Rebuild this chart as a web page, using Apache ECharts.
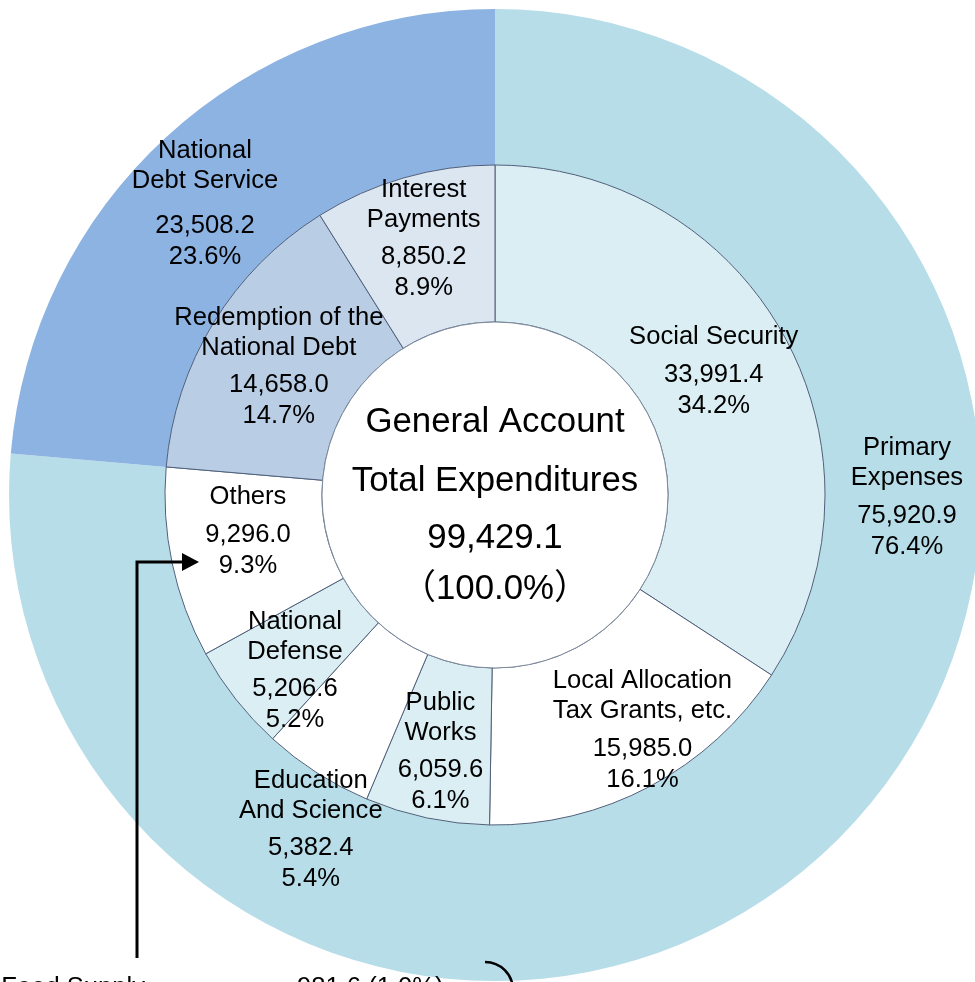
<!DOCTYPE html>
<html><head><meta charset="utf-8">
<script src="https://cdn.jsdelivr.net/npm/echarts@6/dist/echarts.min.js"></script>
<style>html,body{margin:0;padding:0;background:#fff;overflow:hidden}#c{width:975px;height:982px}</style>
</head><body><div id="c"></div>
<script>
// ---- data ----
const innerNames = ['Social Security','Local Allocation\nTax Grants, etc.','Public\nWorks','Education\nAnd Science','National\nDefense','Others','Redemption of the\nNational Debt','Interest\nPayments'];
const innerValues = [33991.4, 15985.0, 6059.6, 5382.4, 5206.6, 9296.0, 14658.0, 8850.2];
const innerPercents = [34.2, 16.1, 6.1, 5.4, 5.2, 9.3, 14.7, 8.9];
const outerNames = ['Primary\nExpenses','National\nDebt Service'];
const outerValues = [75920.9, 23508.2];
const outerPercents = [76.4, 23.6];
const totalName = 'General Account\nTotal Expenditures';
const totalValue = 99429.1;
const totalPercent = 100.0;
const foodSupplyName = 'Food Supply';
const foodSupplyValue = 981.6;
const foodSupplyPercent = 1.0;

// ---- styles / layout ----
const innerColors = ['#daeef3','#ffffff','#daeef3','#ffffff','#daeef3','#ffffff','#b9cde5','#dce6f1'];
const outerColors = ['#b7dde8','#8db3e2'];
const innerLabelShift = [[-5,-2],[28,11],[-2,8],[-47,121],[0,19],[2,-16],[1,5],[-1,-11]];
const outerLabelShift = [[134,-300],[-12,12]];
const innerGap = ['g','g','g','g','g','g','g','g'];
const outerGap = ['g','G'];
const FONT = "'Liberation Sans', Arial, 'Noto Sans CJK JP', sans-serif";
const CX = 495, CY = 495;

const fmt = v => v.toLocaleString('en-US', {minimumFractionDigits: 1, maximumFractionDigits: 1});
const rich = {
  n: {fontSize: 25.6, lineHeight: 30, color: '#000', fontFamily: FONT},
  g: {fontSize: 4, lineHeight: 7},
  G: {fontSize: 4, lineHeight: 14},
  v: {fontSize: 25.6, lineHeight: 31, color: '#000', fontFamily: FONT}
};
function makeFormatter(pcts, gaps) {
  return function (p) {
    const nameLines = p.name.split('\n').map(s => '{n|' + s + '}').join('\n');
    return nameLines + '\n{' + gaps[p.dataIndex] + '| }\n{v|' + fmt(p.value) + '}\n{v|' + pcts[p.dataIndex].toFixed(1) + '%}';
  };
}

const chart = echarts.init(document.getElementById('c'), null, {renderer: 'canvas'});
chart.setOption({
  animation: false,
  series: [
    {
      type: 'pie', name: 'outer', center: [CX, CY], radius: [330, 486],
      startAngle: 90, clockwise: true, silent: true, avoidLabelOverlap: false,
      data: outerNames.map((n, i) => ({name: n, value: outerValues[i], itemStyle: {color: outerColors[i]}})),
      itemStyle: {borderWidth: 0},
      label: {show: true, position: 'inside', formatter: makeFormatter(outerPercents, outerGap), rich: rich, color: '#000'},
      labelLine: {show: false},
      labelLayout: p => ({dx: outerLabelShift[p.dataIndex][0], dy: outerLabelShift[p.dataIndex][1]}),
      emphasis: {disabled: true}
    },
    {
      type: 'pie', name: 'inner', center: [CX, CY], radius: [173, 330],
      startAngle: 90, clockwise: true, silent: true, avoidLabelOverlap: false,
      data: innerNames.map((n, i) => ({name: n, value: innerValues[i], itemStyle: {color: innerColors[i]}})),
      itemStyle: {borderColor: '#4f5f7a', borderWidth: 1},
      label: {show: true, position: 'inside', formatter: makeFormatter(innerPercents, innerGap), rich: rich, color: '#000'},
      labelLine: {show: false},
      labelLayout: p => ({dx: innerLabelShift[p.dataIndex][0], dy: innerLabelShift[p.dataIndex][1]}),
      emphasis: {disabled: true}
    },
    {
      type: 'pie', name: 'total', center: [CX, CY], radius: [0, 173],
      silent: true,
      data: [{name: totalName, value: totalValue}],
      itemStyle: {color: '#ffffff', borderColor: '#7d8a9c', borderWidth: 1},
      label: {
        show: true, position: 'center',
        formatter: p => {
          const l = p.name.split('\n');
          return '{a|' + l[0] + '}\n{b|' + l[1] + '}\n{c|' + fmt(p.value) + '}\n{d|（' + totalPercent.toFixed(1) + '%）}';
        },
        rich: {
          a: {fontSize: 34.8, lineHeight: 59, color: '#000', fontFamily: FONT},
          b: {fontSize: 34.8, lineHeight: 59, color: '#000', fontFamily: FONT},
          c: {fontSize: 34.8, lineHeight: 55, color: '#000', fontFamily: FONT},
          d: {fontSize: 34.8, lineHeight: 47, color: '#000', fontFamily: FONT}
        }
      },
      labelLayout: () => ({dy: 8}),
      labelLine: {show: false},
      emphasis: {disabled: true}
    }
  ],
  graphic: [
    {type: 'polyline', shape: {points: [[137, 958], [137, 562], [184, 562]]}, style: {stroke: '#000', lineWidth: 3, fill: null}, z: 100},
    {type: 'polygon', shape: {points: [[182, 553], [199, 562], [182, 571]]}, style: {fill: '#000'}, z: 100},
    {type: 'text', x: 145, y: 988, style: {text: foodSupplyName, fontSize: 25.6, fontFamily: FONT, fill: '#000', align: 'right', verticalAlign: 'middle'}, z: 100},
    {type: 'text', x: 297, y: 988, style: {text: fmt(foodSupplyValue) + ' (' + foodSupplyPercent.toFixed(1) + '%)', fontSize: 25.6, fontFamily: FONT, fill: '#000', align: 'left', verticalAlign: 'middle'}, z: 100},
    {type: 'arc', shape: {cx: 485, cy: 990, r: 28, startAngle: -Math.PI / 2, endAngle: 0}, style: {stroke: '#000', lineWidth: 2.5, fill: null}, z: 100}
  ]
});
</script>
</body></html>
